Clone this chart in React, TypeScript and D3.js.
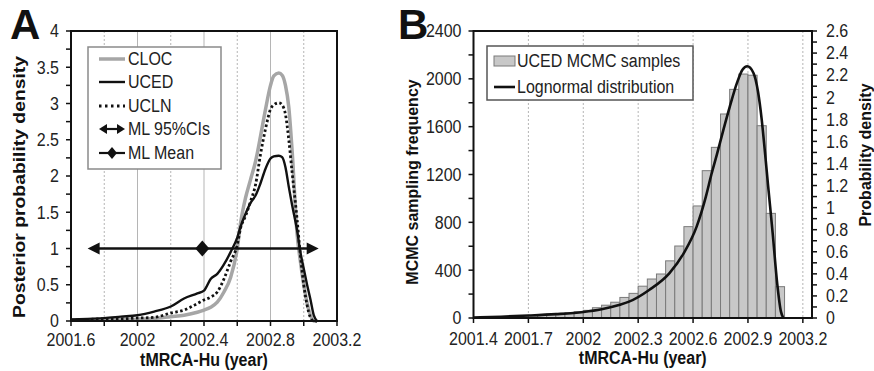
import React from "react";
import * as d3 from "d3";

const FONT = "'Liberation Sans', Arial, Helvetica, sans-serif";

// ---- Panel A: posterior probability densities of tMRCA-Hu ----
const yearsA = [
  2001.6, 2001.7, 2001.8, 2001.9, 2002.0, 2002.1, 2002.2, 2002.28, 2002.36, 2002.4,
  2002.44, 2002.48, 2002.52, 2002.56, 2002.6, 2002.62, 2002.65, 2002.68, 2002.71, 2002.74,
  2002.77, 2002.8, 2002.82, 2002.85, 2002.87, 2002.89, 2002.91, 2002.93, 2002.96, 2002.98,
  2003.0, 2003.02, 2003.04, 2003.06, 2003.08,
];
const clocDensity = [
  0.01, 0.015, 0.02, 0.02, 0.025, 0.035, 0.06, 0.08, 0.12, 0.15,
  0.19, 0.26, 0.4, 0.6, 1.0, 1.35, 1.7, 1.95, 2.2, 2.55,
  2.92, 3.25, 3.38, 3.42, 3.39, 3.25, 2.95, 2.35, 1.2, 0.82,
  0.5, 0.25, 0.08, 0, 0,
];
const ucedDensity = [
  0.02, 0.03, 0.04, 0.06, 0.08, 0.13, 0.2, 0.31, 0.38, 0.42,
  0.58, 0.65, 0.78, 0.95, 1.15, 1.3, 1.48, 1.63, 1.73, 1.9,
  2.1, 2.24, 2.27, 2.28, 2.26, 2.12, 1.85, 1.6, 1.25, 0.95,
  0.72, 0.5, 0.3, 0.08, 0,
];
const uclnDensity = [
  0.01, 0.02, 0.03, 0.03, 0.04, 0.05, 0.11, 0.15, 0.24, 0.29,
  0.33, 0.4, 0.58, 0.82, 1.05, 1.28, 1.45, 1.65, 1.88, 2.3,
  2.65, 2.92, 2.98, 3.01, 2.98, 2.85, 2.5, 2.05, 1.4, 0.9,
  0.5, 0.22, 0.05, 0, 0,
];
const mlCI = [2001.7, 2003.09];
const mlMean = 2002.39;
const mlLevel = 1;

const xTicksA = [2001.6, 2002, 2002.4, 2002.8, 2003.2];
const yTicksA = [0, 0.5, 1, 1.5, 2, 2.5, 3, 3.5, 4];
const solidGridA = [2002, 2002.4, 2002.8];
const dashedGridA = [2001.8, 2002.2, 2002.6, 2003.0];

// ---- Panel B: UCED MCMC samples + lognormal fit ----
const binWidth = 0.05;
const binStarts = [
  2001.4, 2001.45, 2001.5, 2001.55, 2001.6, 2001.65, 2001.7, 2001.75, 2001.8, 2001.85,
  2001.9, 2001.95, 2002.0, 2002.05, 2002.1, 2002.15, 2002.2, 2002.25, 2002.3, 2002.35,
  2002.4, 2002.45, 2002.5, 2002.55, 2002.6, 2002.65, 2002.7, 2002.75, 2002.8, 2002.85,
  2002.9, 2002.95, 2003.0, 2003.05, 2003.1,
];
const binCounts = [
  2, 3, 5, 7, 10, 18, 22, 27, 32, 38,
  44, 52, 64, 86, 107, 132, 172, 206, 266, 326,
  368, 478, 602, 764, 937, 1232, 1427, 1706, 1912, 2040,
  2030, 1608, 875, 262, 4,
];
const lognormYears = [
  2001.4, 2001.55, 2001.7, 2001.85, 2002.0, 2002.1, 2002.2, 2002.25, 2002.36, 2002.47,
  2002.55, 2002.62, 2002.67, 2002.7, 2002.73, 2002.765, 2002.8, 2002.84, 2002.87, 2002.896,
  2002.93, 2002.955, 2002.975, 2002.993, 2003.01, 2003.035, 2003.06, 2003.08, 2003.093,
];
const lognormDensity = [
  0.005, 0.012, 0.022, 0.035, 0.055, 0.08, 0.12, 0.148, 0.254, 0.405,
  0.59, 0.83, 1.1, 1.3, 1.48, 1.7, 1.91, 2.13, 2.25, 2.28,
  2.22, 2.05, 1.8, 1.5, 1.2, 0.77, 0.31, 0.06, 0,
];
const xTicksB = [2001.4, 2001.7, 2002, 2002.3, 2002.6, 2002.9, 2003.2];
const yTicksB = [0, 400, 800, 1200, 1600, 2000, 2400];
const y2TicksB = [0, 0.2, 0.4, 0.6, 0.8, 1, 1.2, 1.4, 1.6, 1.8, 2, 2.2, 2.4, 2.6];

const fmt = (v: number) => String(+v.toFixed(1));

// horizontal text, slightly stretched vertically like the source figure
function T(props: {
  x: number;
  y: number;
  anchor?: "start" | "middle" | "end";
  bold?: boolean;
  size?: number;
  mid?: boolean;
  children: React.ReactNode;
}) {
  const { x, y, anchor = "start", bold = false, size = 16, mid = false, children } = props;
  return (
    <text
      transform={`translate(${x},${y}) scale(1,1.1)`}
      textAnchor={anchor}
      dy={mid ? "0.36em" : undefined}
      fontSize={size}
      fontWeight={bold ? "bold" : "normal"}
      fill={bold ? "#111" : "#222"}
    >
      {children}
    </text>
  );
}

function PanelA() {
  const left = 71, right = 337, top = 31, bottom = 321;
  const x = d3.scaleLinear().domain([2001.6, 2003.2]).range([left, right]);
  const y = d3.scaleLinear().domain([0, 4]).range([bottom, top]);
  const line = (vals: number[]) =>
    d3.line<number>().x((_, i) => x(yearsA[i])).y((d) => y(d)).curve(d3.curveMonotoneX)(vals) || "";
  const minorY = d3.range(0, 4.001, 0.25);
  const minorX = d3.range(2001.6, 2003.201, 0.2);
  const yl = y(mlLevel);
  const x0 = x(mlCI[0]), x1 = x(mlCI[1]), xm = x(mlMean);

  const lx0 = 99, lx1 = 125, ltx = 128;
  const legRows = [59, 82, 106, 129, 153];

  return (
    <g>
      {dashedGridA.map((v) => (
        <line key={"d" + v} x1={x(v)} x2={x(v)} y1={top} y2={bottom} stroke="#b5b5b5" strokeWidth={1} strokeDasharray="2 2" />
      ))}
      {solidGridA.map((v) => (
        <line key={"s" + v} x1={x(v)} x2={x(v)} y1={top} y2={bottom} stroke="#b5b5b5" strokeWidth={1} />
      ))}

      <path d={line(clocDensity)} fill="none" stroke="#a6a6a6" strokeWidth={3.5} />
      <path d={line(uclnDensity)} fill="none" stroke="#111" strokeWidth={2.8} strokeDasharray="2.5 2.5" />
      <path d={line(ucedDensity)} fill="none" stroke="#111" strokeWidth={2.4} />

      {/* ML 95% CI and mean */}
      <line x1={x0 + 8} x2={x1 - 8} y1={yl} y2={yl} stroke="#111" strokeWidth={2.4} />
      <path d={`M${x0},${yl}L${x0 + 12},${yl - 6}L${x0 + 12},${yl + 6}Z`} fill="#111" />
      <path d={`M${x1},${yl}L${x1 - 12},${yl - 6}L${x1 - 12},${yl + 6}Z`} fill="#111" />
      <path d={`M${xm - 7},${yl}L${xm},${yl - 8}L${xm + 7},${yl}L${xm},${yl + 8}Z`} fill="#111" />

      {/* frame */}
      <rect x={left} y={top} width={right - left} height={bottom - top} fill="none" stroke="#111" strokeWidth={2} />
      {minorY.map((v) => (
        <line key={"ty" + v} x1={left - 5} x2={left} y1={y(v)} y2={y(v)} stroke="#111" strokeWidth={1.5} />
      ))}
      {minorX.map((v) => (
        <line key={"tx" + v} x1={x(v)} x2={x(v)} y1={bottom} y2={bottom + 5} stroke="#111" strokeWidth={1.5} />
      ))}
      {yTicksA.map((v) => (
        <T key={"ly" + v} x={left - 12} y={y(v)} anchor="end" mid>
          {fmt(v)}
        </T>
      ))}
      {xTicksA.map((v) => (
        <T key={"lx" + v} x={x(v)} y={346} anchor="middle">
          {fmt(v)}
        </T>
      ))}
      <T x={(left + right) / 2} y={366} anchor="middle" bold>
        tMRCA-Hu (year)
      </T>
      <text
        transform="translate(25,187) rotate(-90)"
        textAnchor="middle"
        fontSize={17}
        fontWeight="bold"
        fill="#111"
        textLength={262}
        lengthAdjust="spacingAndGlyphs"
      >
        Posterior probability density
      </text>
      <text x={10} y={39} fontSize={42} fontWeight="bold" fill="#111">A</text>

      {/* legend */}
      <rect x={88} y={47} width={133} height={122} fill="#fff" stroke="#8a8a8a" strokeWidth={1.5} />
      <line x1={lx0} x2={lx1} y1={legRows[0]} y2={legRows[0]} stroke="#a6a6a6" strokeWidth={3.5} />
      <line x1={lx0} x2={lx1} y1={legRows[1]} y2={legRows[1]} stroke="#111" strokeWidth={2.4} />
      <line x1={lx0} x2={lx1} y1={legRows[2]} y2={legRows[2]} stroke="#111" strokeWidth={2.8} strokeDasharray="2.5 3.5" />
      <line x1={lx0 + 5} x2={lx1 - 5} y1={legRows[3]} y2={legRows[3]} stroke="#111" strokeWidth={2.2} />
      <path d={`M${lx0},${legRows[3]}L${lx0 + 8},${legRows[3] - 5}L${lx0 + 8},${legRows[3] + 5}Z`} fill="#111" />
      <path d={`M${lx1},${legRows[3]}L${lx1 - 8},${legRows[3] - 5}L${lx1 - 8},${legRows[3] + 5}Z`} fill="#111" />
      <line x1={lx0} x2={lx1} y1={legRows[4]} y2={legRows[4]} stroke="#111" strokeWidth={2.2} />
      <path
        d={`M${(lx0 + lx1) / 2 - 5},${legRows[4]}L${(lx0 + lx1) / 2},${legRows[4] - 6}L${(lx0 + lx1) / 2 + 5},${legRows[4]}L${(lx0 + lx1) / 2},${legRows[4] + 6}Z`}
        fill="#111"
      />
      {["CLOC", "UCED", "UCLN", "ML 95%CIs", "ML Mean"].map((t, i) => (
        <T key={t} x={ltx} y={legRows[i]} mid>
          {t}
        </T>
      ))}
    </g>
  );
}

function PanelB() {
  const left = 473.5, right = 812, top = 31, bottom = 318;
  const x = d3.scaleLinear().domain([2001.4, 2003.25]).range([left, right]);
  const y = d3.scaleLinear().domain([0, 2400]).range([bottom, top]);
  const y2 = d3.scaleLinear().domain([0, 2.6]).range([bottom, top]);
  const curve =
    d3.line<number>().x((_, i) => x(lognormYears[i])).y((d) => y2(d)).curve(d3.curveMonotoneX)(lognormDensity) || "";
  const minorY = d3.range(0, 2400.1, 200);
  const minorY2 = d3.range(0, 2.601, 0.1);
  const grid = xTicksB.slice(1);

  return (
    <g>
      {grid.map((v) => (
        <line key={"g" + v} x1={x(v)} x2={x(v)} y1={top} y2={bottom} stroke="#b5b5b5" strokeWidth={1} strokeDasharray="2 2" />
      ))}
      {binStarts.map((b, i) => (
        <rect
          key={"b" + b}
          x={x(b)}
          y={y(binCounts[i])}
          width={x(b + binWidth) - x(b)}
          height={bottom - y(binCounts[i])}
          fill="#c8c8c8"
          stroke="#7a7a7a"
          strokeWidth={1}
        />
      ))}
      <path d={curve} fill="none" stroke="#111" strokeWidth={2.6} />

      {/* frame */}
      <rect x={left} y={top} width={right - left} height={bottom - top} fill="none" stroke="#111" strokeWidth={2} />
      {minorY.map((v) => (
        <line key={"ty" + v} x1={left - 5} x2={left} y1={y(v)} y2={y(v)} stroke="#111" strokeWidth={1.5} />
      ))}
      {minorY2.map((v) => (
        <line key={"ty2" + v} x1={right} x2={right + 5} y1={y2(v)} y2={y2(v)} stroke="#111" strokeWidth={1.5} />
      ))}
      {xTicksB.map((v) => (
        <line key={"tx" + v} x1={x(v)} x2={x(v)} y1={bottom} y2={bottom + 5} stroke="#111" strokeWidth={1.5} />
      ))}
      {yTicksB.map((v) => (
        <T key={"ly" + v} x={left - 12} y={y(v)} anchor="end" mid>
          {v}
        </T>
      ))}
      {y2TicksB.map((v) => (
        <T key={"ly2" + v} x={right + 14} y={y2(v)} mid>
          {fmt(v)}
        </T>
      ))}
      {xTicksB.map((v) => (
        <T key={"lx" + v} x={x(v)} y={345} anchor="middle">
          {fmt(v)}
        </T>
      ))}
      <T x={(left + right) / 2} y={364} anchor="middle" bold>
        tMRCA-Hu (year)
      </T>
      <text
        transform="translate(418,182) rotate(-90)"
        textAnchor="middle"
        fontSize={16}
        fontWeight="bold"
        fill="#111"
      >
        MCMC sampling frequency
      </text>
      <text
        transform="translate(871,155) rotate(-90)"
        textAnchor="middle"
        fontSize={16}
        fontWeight="bold"
        fill="#111"
      >
        Probability density
      </text>
      <text x={398} y={39} fontSize={42} fontWeight="bold" fill="#111">B</text>

      {/* legend */}
      <rect x={487} y={46} width={206} height={54} fill="#fff" stroke="#555" strokeWidth={1.5} />
      <rect x={494} y={56} width={21} height={10} fill="#c8c8c8" stroke="#7a7a7a" strokeWidth={1} />
      <line x1={494} x2={515} y1={87} y2={87} stroke="#111" strokeWidth={2.6} />
      <T x={517} y={61} mid>UCED MCMC samples</T>
      <T x={517} y={87} mid>Lognormal distribution</T>
    </g>
  );
}

export default function App() {
  return (
    <svg
      width={874}
      height={371}
      viewBox="0 0 874 371"
      style={{ position: "absolute", left: 0, top: 0, background: "#fff", fontFamily: FONT }}
    >
      <rect width={874} height={371} fill="#fff" />
      <PanelA />
      <PanelB />
    </svg>
  );
}
